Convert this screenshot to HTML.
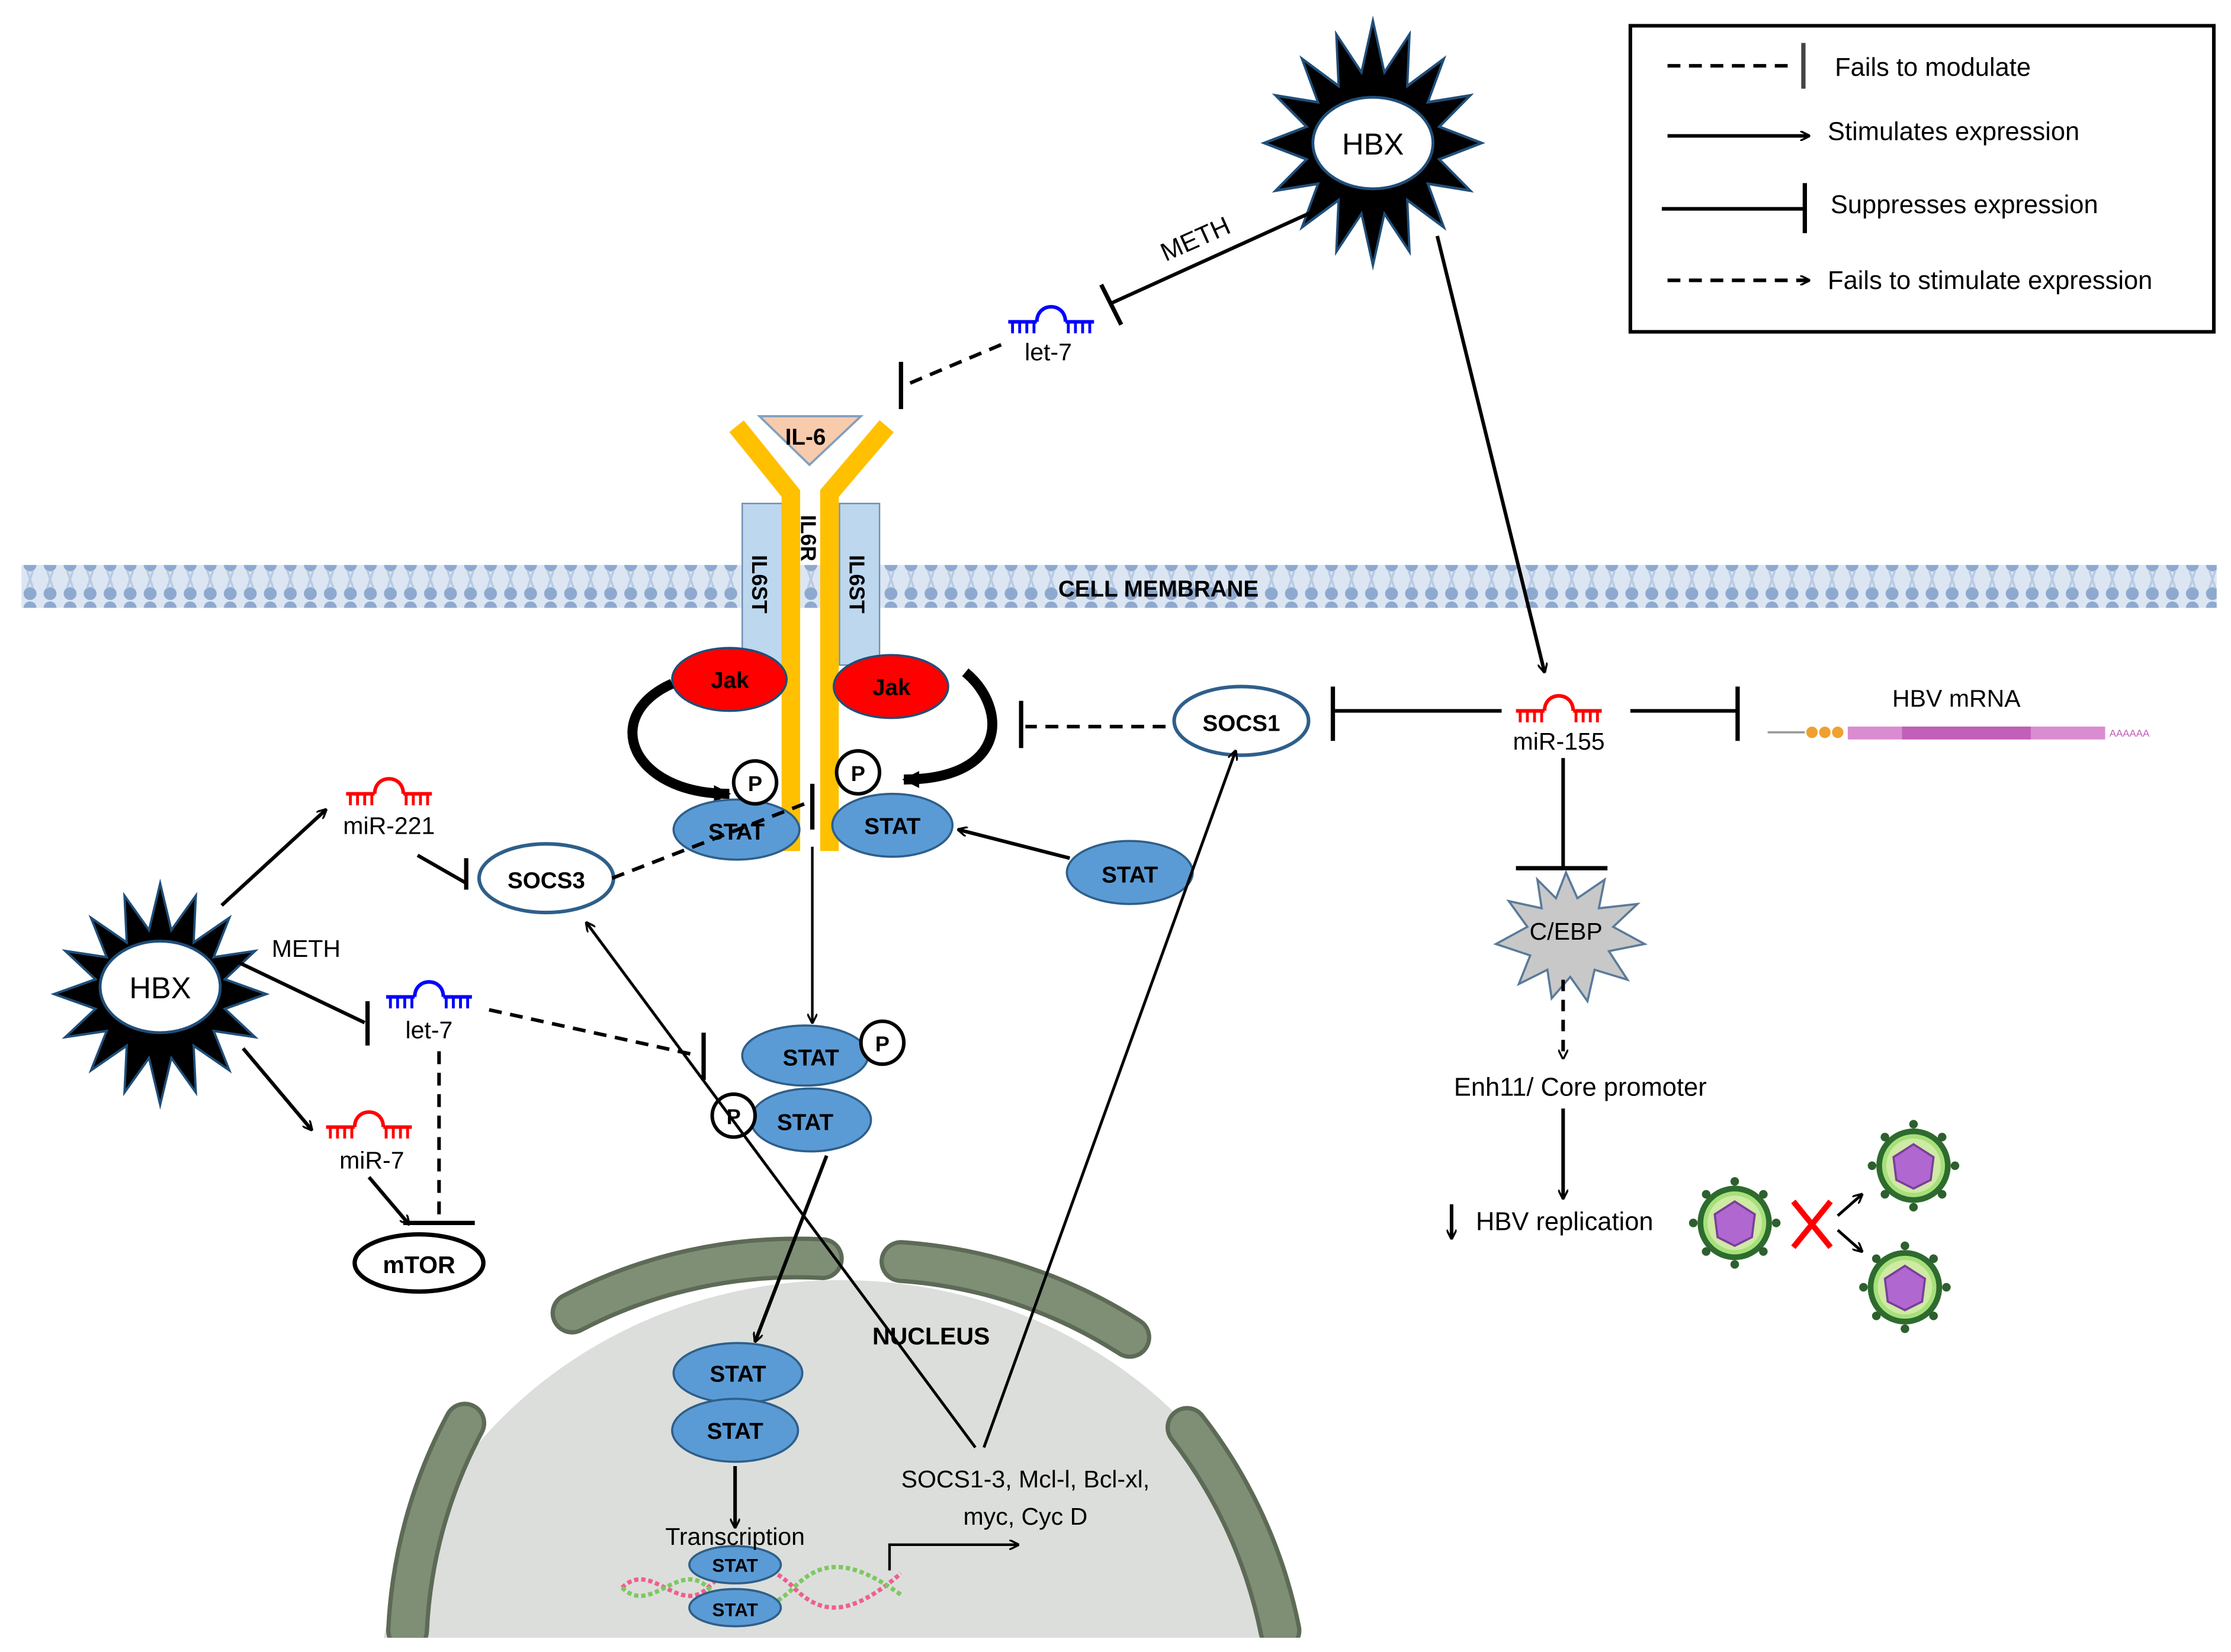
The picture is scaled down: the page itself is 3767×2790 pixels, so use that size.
<!DOCTYPE html>
<html><head><meta charset="utf-8"><style>
html,body{margin:0;padding:0;background:#fff;width:3767px;height:2790px;overflow:hidden;position:relative;}
svg{display:block;position:absolute;left:0;top:0;}
text{font-family:"Liberation Sans",sans-serif;}
</style></head><body>
<svg width="3767" height="2790" viewBox="0 0 1560 1155" preserveAspectRatio="none" xmlns="http://www.w3.org/2000/svg">
<defs>
<marker id="ar" viewBox="0 0 10 10" refX="9" refY="5" markerWidth="7" markerHeight="7" orient="auto-start-reverse" markerUnits="userSpaceOnUse"><path d="M0,0 L10,5 L0,10" fill="none" stroke="#000" stroke-width="2"/></marker>
<marker id="ar2" viewBox="0 0 10 10" refX="9" refY="5" markerWidth="12" markerHeight="12" orient="auto" markerUnits="userSpaceOnUse"><path d="M0,0 L10,5 L0,10 Z" fill="#000"/></marker>
<pattern id="mem" width="14" height="30" patternUnits="userSpaceOnUse">
<rect width="14" height="30" fill="#dce6f2"/>
<circle cx="7" cy="5" r="4.5" fill="#8ea9cf"/><circle cx="7" cy="25" r="4.5" fill="#8ea9cf"/>
<path d="M5,9 L9,21 M9,9 L5,21" stroke="#b8cbe4" stroke-width="1.5"/>
</pattern>
<g id="mir">
<path d="M-30,0 H-10 M10,0 H30" stroke="currentColor" stroke-width="2.5" fill="none"/>
<path d="M-10,0 C-10,-14 10,-14 10,0" stroke="currentColor" stroke-width="2.5" fill="none"/>
<path d="M-27,0v8M-22,0v8M-17,0v8M-12,0v8M12,0v8M17,0v8M22,0v8M27,0v8" stroke="currentColor" stroke-width="2"/>
</g>
<g id="virus">
<circle r="26" fill="#2e6b2e"/>
<circle r="22" fill="#a6e07a"/>
<circle r="19" fill="#cfeaa4"/>
<polygon points="0,-15 14,-6 12,10 0,16 -12,10 -14,-6" fill="#b068d0" stroke="#7a3f99" stroke-width="1.5"/>
<g fill="#2e5f2e"><circle cx="0" cy="-29" r="3"/><circle cx="20" cy="-20" r="3"/><circle cx="29" cy="0" r="3"/><circle cx="20" cy="20" r="3"/><circle cx="0" cy="29" r="3"/><circle cx="-20" cy="20" r="3"/><circle cx="-29" cy="0" r="3"/><circle cx="-20" cy="-20" r="3"/></g>
</g>
</defs>

<rect x="1140" y="18" width="408" height="214" fill="#fff" stroke="#000" stroke-width="2.5"/>
<line x1="1166" y1="46" x2="1255" y2="46" stroke="#000" stroke-width="2.5" stroke-dasharray="9,6"/>
<line x1="1261" y1="30" x2="1261" y2="62" stroke="#444" stroke-width="3"/>
<text x="1283" y="53" font-size="18">Fails to modulate</text>
<line x1="1166" y1="95" x2="1265" y2="95" stroke="#000" stroke-width="2.5" marker-end="url(#ar)"/>
<text x="1278" y="98" font-size="18">Stimulates expression</text>
<line x1="1162" y1="146" x2="1262" y2="146" stroke="#000" stroke-width="2.5"/>
<line x1="1262" y1="128" x2="1262" y2="163" stroke="#000" stroke-width="3"/>
<text x="1280" y="149" font-size="18">Suppresses expression</text>
<line x1="1166" y1="196" x2="1265" y2="196" stroke="#000" stroke-width="2.5" stroke-dasharray="9,6" marker-end="url(#ar)"/>
<text x="1278" y="202" font-size="18">Fails to stimulate expression</text>

<clipPath id="nc"><rect x="0" y="0" width="1560" height="1145"/></clipPath>
<g clip-path="url(#nc)">
<ellipse cx="588" cy="1200" rx="325" ry="305" fill="#dcdedb"/>
<g fill="none" stroke-linecap="round">
<path d="M285,1140 A340,340 0 0 1 325,995" stroke="#5d6a56" stroke-width="30"/>
<path d="M285,1140 A340,340 0 0 1 325,995" stroke="#7f8f76" stroke-width="24"/>
<path d="M400,918 A340,340 0 0 1 575,880" stroke="#5d6a56" stroke-width="30"/>
<path d="M400,918 A340,340 0 0 1 575,880" stroke="#7f8f76" stroke-width="24"/>
<path d="M630,882 A340,340 0 0 1 790,935" stroke="#5d6a56" stroke-width="30"/>
<path d="M630,882 A340,340 0 0 1 790,935" stroke="#7f8f76" stroke-width="24"/>
<path d="M830,998 A340,340 0 0 1 895,1140" stroke="#5d6a56" stroke-width="30"/>
<path d="M830,998 A340,340 0 0 1 895,1140" stroke="#7f8f76" stroke-width="24"/>
</g>
</g>
<text x="610" y="940" font-size="17" font-weight="bold">NUCLEUS</text>

<rect x="15" y="395" width="1535" height="30" fill="url(#mem)"/>
<text x="740" y="417" font-size="16" font-weight="bold">CELL MEMBRANE</text>

<rect x="519" y="352" width="28" height="113" fill="#bdd7ee" stroke="#6f8fb0" stroke-width="1"/>
<rect x="587" y="352" width="28" height="113" fill="#bdd7ee" stroke="#6f8fb0" stroke-width="1"/>
<text transform="translate(526,388) rotate(90)" font-size="15" font-weight="bold">IL6ST</text>
<text transform="translate(594,388) rotate(90)" font-size="15" font-weight="bold">IL6ST</text>
<g stroke="#ffc000" stroke-width="13" fill="none">
<path d="M515,298 L553,345 L553,595"/>
<path d="M620,298 L580,345 L580,595"/>
</g>
<text transform="translate(560,360) rotate(90)" font-size="15" font-weight="bold">IL6R</text>
<polygon points="531,291 602,291 566,325" fill="#f8cbad" stroke="#7f9fbf" stroke-width="1.5"/>
<text x="549" y="311" font-size="16" font-weight="bold">IL-6</text>
<ellipse cx="510" cy="475" rx="40" ry="22" fill="#ff0000" stroke="#1f4e79" stroke-width="1.5"/>
<text x="497" y="481" font-size="16" font-weight="bold">Jak</text>
<ellipse cx="623" cy="480" rx="40" ry="22" fill="#ff0000" stroke="#1f4e79" stroke-width="1.5"/>
<text x="610" y="486" font-size="16" font-weight="bold">Jak</text>
<path d="M470,478 C420,500 440,555 510,555" fill="none" stroke="#000" stroke-width="7" marker-end="url(#ar2)"/>
<path d="M675,470 C705,495 705,545 632,545" fill="none" stroke="#000" stroke-width="7" marker-end="url(#ar2)"/>

<g fill="#5b9bd5" stroke="#2e5f8a" stroke-width="1.5">
<ellipse cx="515" cy="580" rx="44" ry="21"/>
<ellipse cx="624" cy="577" rx="42" ry="22"/>
<ellipse cx="790" cy="610" rx="44" ry="22"/>
<ellipse cx="563" cy="738" rx="44" ry="21"/>
<ellipse cx="567" cy="783" rx="42" ry="22"/>
<ellipse cx="516" cy="960" rx="45" ry="21"/>
<ellipse cx="514" cy="1000" rx="44" ry="22"/>
</g>
<g font-size="16" font-weight="bold" text-anchor="middle">
<text x="515" y="587">STAT</text><text x="624" y="583">STAT</text><text x="790" y="617">STAT</text>
<text x="567" y="745">STAT</text><text x="563" y="790">STAT</text>
<text x="516" y="966">STAT</text><text x="514" y="1006">STAT</text>
</g>
<g fill="#fff" stroke="#000" stroke-width="2.5">
<circle cx="528" cy="547" r="15"/><circle cx="600" cy="540" r="15"/><circle cx="617" cy="729" r="15"/><circle cx="513" cy="780" r="15"/>
</g>
<g font-size="15" font-weight="bold" text-anchor="middle">
<text x="528" y="553">P</text><text x="600" y="546">P</text><text x="617" y="735">P</text><text x="513" y="786">P</text>
</g>

<g fill="none" stroke-width="3">
<path d="M435,1110 C455,1090 475,1130 495,1110 S535,1090 555,1110 S595,1130 630,1100" stroke="#ef5f8f" stroke-dasharray="3,2"/>
<path d="M435,1110 C455,1130 475,1090 495,1110 S535,1130 555,1110 S595,1090 630,1115" stroke="#7cc860" stroke-dasharray="3,2"/>
</g>
<g fill="#5b9bd5" stroke="#2e5f8a" stroke-width="1.5">
<ellipse cx="514" cy="1094" rx="32" ry="13"/><ellipse cx="514" cy="1124" rx="32" ry="13"/>
</g>
<text x="514" y="1099" font-size="13" font-weight="bold" text-anchor="middle">STAT</text>
<text x="514" y="1130" font-size="13" font-weight="bold" text-anchor="middle">STAT</text>
<text x="514" y="1080" font-size="17" text-anchor="middle">Transcription</text>
<path d="M622,1098 V1080 H712" fill="none" stroke="#000" stroke-width="1.8" marker-end="url(#ar)"/>
<text x="717" y="1040" font-size="17" text-anchor="middle">SOCS1-3, Mcl-l, Bcl-xl,</text>
<text x="717" y="1066" font-size="17" text-anchor="middle">myc, Cyc D</text>

<ellipse cx="382" cy="614" rx="47" ry="24" fill="#fff" stroke="#2e5f8a" stroke-width="2.5"/>
<text x="382" y="621" font-size="16" font-weight="bold" text-anchor="middle">SOCS3</text>
<ellipse cx="868" cy="504" rx="47" ry="24" fill="#fff" stroke="#2e5f8a" stroke-width="2.5"/>
<text x="868" y="511" font-size="16" font-weight="bold" text-anchor="middle">SOCS1</text>
<ellipse cx="293" cy="883" rx="45" ry="20" fill="#fff" stroke="#000" stroke-width="3"/>
<text x="293" y="890" font-size="17" font-weight="bold" text-anchor="middle">mTOR</text>

<g transform="translate(960,100) scale(0.8,0.95) translate(-960,-100)">
<polygon points="960,10 970,48 992,20 990,58 1022,38 1008,70 1045,65 1018,88 1055,100 1018,112 1045,135 1008,130 1022,162 990,142 992,180 970,152 960,190 950,152 928,180 930,142 898,162 912,130 875,135 902,112 865,100 902,88 875,65 912,70 898,38 930,58 928,20 950,48" fill="#000" stroke="#1f4e79" stroke-width="2"/>
</g>
<ellipse cx="960" cy="100" rx="42" ry="32" fill="#fff" stroke="#1f4e79" stroke-width="2"/>
<text x="960" y="108" font-size="21" text-anchor="middle">HBX</text>
<g transform="translate(112,695) scale(0.78,0.86) translate(-112,-690)">
<polygon points="112,600 122,638 144,610 142,648 174,628 160,660 197,655 170,678 207,690 170,702 197,725 160,720 174,752 142,732 144,770 122,742 112,780 102,742 80,770 82,732 50,752 64,720 27,725 54,702 17,690 54,678 27,655 64,660 50,628 82,648 80,610 102,638" fill="#000" stroke="#1f4e79" stroke-width="2"/>
</g>
<ellipse cx="112" cy="690" rx="42" ry="32" fill="#fff" stroke="#1f4e79" stroke-width="2"/>
<text x="112" y="698" font-size="21" text-anchor="middle">HBX</text>

<polygon points="1095,610 1103,628 1122,615 1118,635 1145,632 1128,648 1150,660 1125,665 1138,685 1115,678 1110,700 1098,683 1085,698 1082,678 1062,688 1070,668 1046,660 1068,648 1055,630 1078,635 1075,615 1088,628" fill="#c8c8c8" stroke="#5a7a9a" stroke-width="1.5"/>
<text x="1095" y="657" font-size="17" text-anchor="middle">C/EBP</text>

<use href="#mir" x="272" y="555" color="#ff0000"/>
<text x="272" y="583" font-size="17" text-anchor="middle">miR-221</text>
<use href="#mir" x="300" y="697" color="#0000ff"/>
<text x="300" y="726" font-size="17" text-anchor="middle">let-7</text>
<use href="#mir" x="258" y="788" color="#ff0000"/>
<text x="260" y="817" font-size="17" text-anchor="middle">miR-7</text>
<use href="#mir" x="735" y="225" color="#0000ff"/>
<text x="733" y="252" font-size="17" text-anchor="middle">let-7</text>
<use href="#mir" x="1090" y="497" color="#ff0000"/>
<text x="1090" y="524" font-size="17" text-anchor="middle">miR-155</text>

<text x="1368" y="494" font-size="17" text-anchor="middle">HBV mRNA</text>
<line x1="1236" y1="512" x2="1262" y2="512" stroke="#999" stroke-width="1.5"/>
<circle cx="1267" cy="512" r="4" fill="#f0a030"/><circle cx="1276" cy="512" r="4" fill="#f0a030"/><circle cx="1285" cy="512" r="4" fill="#f0a030"/>
<rect x="1292" y="508" width="180" height="9" fill="#d98cd0"/>
<rect x="1330" y="508" width="90" height="9" fill="#c060b8"/>
<text x="1475" y="515" font-size="7" fill="#c060b8">AAAAAA</text>

<use href="#virus" x="1213" y="855"/>
<use href="#virus" x="1338" y="815"/>
<use href="#virus" x="1332" y="900"/>
<path d="M1254,840 L1280,872 M1280,840 L1254,872" stroke="#ff0000" stroke-width="4"/>
<line x1="1285" y1="850" x2="1302" y2="835" stroke="#000" stroke-width="2" marker-end="url(#ar)"/>
<line x1="1285" y1="860" x2="1302" y2="875" stroke="#000" stroke-width="2" marker-end="url(#ar)"/>

<text x="1105" y="766" font-size="18" text-anchor="middle">Enh11/ Core promoter</text>
<text x="1032" y="860" font-size="18">HBV replication</text>
<line x1="1015" y1="842" x2="1015" y2="866" stroke="#000" stroke-width="2.5" marker-end="url(#ar)"/>

<g stroke="#000" stroke-width="2.5" fill="none">
<line x1="918" y1="148" x2="777" y2="212"/>
<line x1="770" y1="199" x2="784" y2="227" stroke-width="3"/>
<line x1="700" y1="241" x2="636" y2="268" stroke-dasharray="9,6"/>
<line x1="630" y1="253" x2="630" y2="286" stroke-width="3"/>
<line x1="1005" y1="165" x2="1080" y2="470" marker-end="url(#ar)"/>
<line x1="1050" y1="497" x2="932" y2="497"/>
<line x1="932" y1="480" x2="932" y2="518" stroke-width="3"/>
<line x1="1140" y1="497" x2="1215" y2="497"/>
<line x1="1215" y1="480" x2="1215" y2="518" stroke-width="3"/>
<line x1="1093" y1="530" x2="1093" y2="607"/>
<line x1="1060" y1="607" x2="1124" y2="607" stroke-width="3"/>
<line x1="1093" y1="685" x2="1093" y2="740" stroke-dasharray="8,6" marker-end="url(#ar)"/>
<line x1="1093" y1="775" x2="1093" y2="838" marker-end="url(#ar)"/>
<line x1="815" y1="508" x2="717" y2="508" stroke-dasharray="9,6"/>
<line x1="714" y1="490" x2="714" y2="523" stroke-width="3"/>
<line x1="428" y1="614" x2="565" y2="561" stroke-dasharray="9,6"/>
<line x1="568" y1="548" x2="568" y2="580" stroke-width="3"/>
<line x1="748" y1="600" x2="670" y2="580" marker-end="url(#ar)"/>
<line x1="568" y1="592" x2="568" y2="715" stroke-width="1.8" marker-end="url(#ar)"/>
<line x1="578" y1="808" x2="528" y2="938" marker-end="url(#ar)"/>
<line x1="514" y1="1025" x2="514" y2="1068" marker-end="url(#ar)"/>
<line x1="688" y1="1012" x2="864" y2="525" stroke-width="2" marker-end="url(#ar)"/>
<line x1="682" y1="1012" x2="410" y2="645" stroke-width="2" marker-end="url(#ar)"/>
<line x1="155" y1="633" x2="228" y2="566" marker-end="url(#ar)"/>
<line x1="292" y1="598" x2="327" y2="618"/>
<line x1="326" y1="600" x2="326" y2="622" stroke-width="3"/>
<line x1="165" y1="672" x2="255" y2="715"/>
<line x1="257" y1="700" x2="257" y2="731" stroke-width="3"/>
<line x1="342" y1="706" x2="488" y2="738" stroke-dasharray="9,6"/>
<line x1="492" y1="722" x2="492" y2="755" stroke-width="3"/>
<line x1="170" y1="733" x2="218" y2="790" marker-end="url(#ar)"/>
<line x1="258" y1="823" x2="286" y2="856" marker-end="url(#ar)"/>
<line x1="307" y1="735" x2="307" y2="853" stroke-dasharray="9,6"/>
<line x1="282" y1="855" x2="332" y2="855" stroke-width="3"/>
</g>
<text transform="translate(815,183) rotate(-24)" font-size="18">METH</text>
<text x="190" y="669" font-size="17">METH</text>
</svg>
</body></html>
